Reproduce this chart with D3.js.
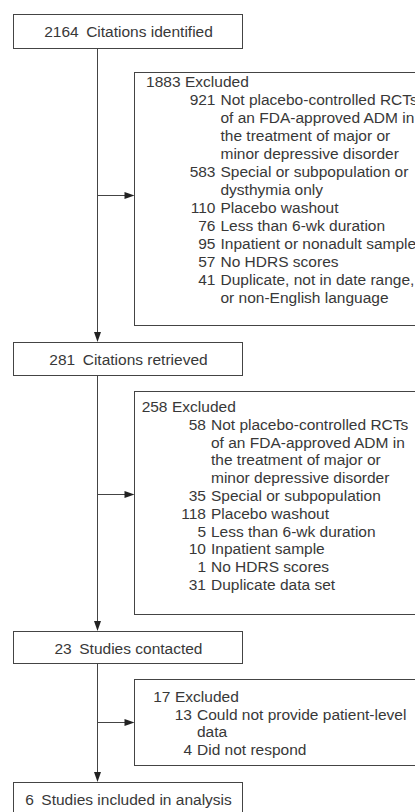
<!DOCTYPE html>
<html>
<head>
<meta charset="utf-8">
<script src="https://cdn.jsdelivr.net/npm/d3@7"></script>
<style>
  body { margin: 0; background: #fff; }
  svg { display: block; font-family: "Liberation Sans", Arial, sans-serif; }
</style>
</head>
<body>
<svg id="chart" width="415" height="812"></svg>
<script>
// main flow: counts and labels of each step
var stepCounts = [2164, 281, 23, 6];
var stepLabels = ["Citations identified", "Citations retrieved", "Studies contacted", "Studies included in analysis"];

// excluded after each step
var excludedTotals = [1883, 258, 17];

var reasons1Counts = [921, 583, 110, 76, 95, 57, 41];
var reasons1Labels = [
  ["Not placebo-controlled RCTs", "of an FDA-approved ADM in", "the treatment of major or", "minor depressive disorder"],
  ["Special or subpopulation or", "dysthymia only"],
  ["Placebo washout"],
  ["Less than 6-wk duration"],
  ["Inpatient or nonadult sample"],
  ["No HDRS scores"],
  ["Duplicate, not in date range,", "or non-English language"]
];

var reasons2Counts = [58, 35, 118, 5, 10, 1, 31];
var reasons2Labels = [
  ["Not placebo-controlled RCTs", "of an FDA-approved ADM in", "the treatment of major or", "minor depressive disorder"],
  ["Special or subpopulation"],
  ["Placebo washout"],
  ["Less than 6-wk duration"],
  ["Inpatient sample"],
  ["No HDRS scores"],
  ["Duplicate data set"]
];

var reasons3Counts = [13, 4];
var reasons3Labels = [
  ["Could not provide patient-level", "data"],
  ["Did not respond"]
];

var svg = d3.select("#chart");
var ink = "#383838";
var rule = "#444";
var fs = 15.5;

// layout of the boxes (px)
var boxX = 13, boxW = 229, trunkX = 97.5;
var stepBoxes = [
  {y: 14.5, h: 34}, {y: 342.5, h: 33}, {y: 631.5, h: 32}, {y: 782.5, h: 40}
];
var exclBoxes = [
  {y: 72.5, h: 253, arrowY: 195.5, labX: 185, subNumX: 215.5, base: 87, lh: 18},
  {y: 391.5, h: 223, arrowY: 494.5, labX: 172, subNumX: 206, base: 412, lh: 17.8},
  {y: 679.5, h: 86, arrowY: 722.5, labX: 175, subNumX: 192, base: 702, lh: 17.6}
];
var allCounts = [reasons1Counts, reasons2Counts, reasons3Counts];
var allLabels = [reasons1Labels, reasons2Labels, reasons3Labels];

var lineGen = d3.line();

function arrowHead(g, tip, dir) {
  // filled triangle, dir "down" or "right"
  var L = 10, W = 3.5, pts;
  if (dir === "down") pts = [[tip[0] - W, tip[1] - L], [tip[0] + W, tip[1] - L], tip];
  else pts = [[tip[0] - L, tip[1] - W], [tip[0] - L, tip[1] + W], tip];
  g.append("path").attr("d", lineGen(pts) + "Z").attr("fill", "#222");
}

// trunk: vertical line between step boxes, with arrows down
var trunk = svg.append("g");
for (var i = 0; i < stepBoxes.length - 1; i++) {
  var y0 = stepBoxes[i].y + stepBoxes[i].h, y1 = stepBoxes[i + 1].y - 0.5;
  trunk.append("path")
    .attr("d", lineGen([[trunkX, y0], [trunkX, y1 - 6]]))
    .attr("stroke", rule).attr("stroke-width", 1).attr("fill", "none");
  arrowHead(trunk, [trunkX, y1], "down");

  // side arrow to the exclusion box
  var eb = exclBoxes[i];
  trunk.append("path")
    .attr("d", lineGen([[trunkX, eb.arrowY], [134.5 - 6, eb.arrowY]]))
    .attr("stroke", rule).attr("stroke-width", 1).attr("fill", "none");
  arrowHead(trunk, [134.5, eb.arrowY], "right");
}

// step boxes
var steps = svg.selectAll("g.step")
  .data(stepCounts)
  .join("g").attr("class", "step");

steps.append("rect")
  .attr("x", boxX + 0.5)
  .attr("y", function(d, i) { return stepBoxes[i].y; })
  .attr("width", boxW)
  .attr("height", function(d, i) { return stepBoxes[i].h; })
  .attr("fill", "#fff").attr("stroke", rule).attr("stroke-width", 1);

var stepText = steps.append("text")
  .attr("x", boxX + boxW / 2 + 1)
  .attr("y", function(d, i) { return stepBoxes[i].y + 22.5; })
  .attr("text-anchor", "middle")
  .attr("font-size", fs)
  .attr("fill", ink);
stepText.append("tspan").text(function(d) { return d; });
stepText.append("tspan").attr("dx", 7.5).text(function(d, i) { return stepLabels[i]; });

// exclusion boxes
exclBoxes.forEach(function(b, k) {
  var g = svg.append("g");
  g.append("rect")
    .attr("x", 134.5).attr("y", b.y)
    .attr("width", 300).attr("height", b.h)
    .attr("fill", "#fff").attr("stroke", rule).attr("stroke-width", 1);

  // flatten the reasons into text rows
  var rows = [];
  allCounts[k].forEach(function(n, j) {
    allLabels[k][j].forEach(function(t, m) {
      rows.push({num: m === 0 ? n : null, text: t});
    });
  });

  var y = d3.scaleLinear()
    .domain([0, rows.length])
    .range([b.base, b.base + b.lh * rows.length]);

  g.append("text").attr("x", b.labX - 4.5).attr("y", y(0))
    .attr("text-anchor", "end")
    .attr("font-size", fs).attr("fill", ink).text(excludedTotals[k]);
  g.append("text").attr("x", b.labX).attr("y", y(0))
    .attr("font-size", fs).attr("fill", ink).text("Excluded");

  g.selectAll("text.num")
    .data(rows.filter(function(r) { return r.num !== null; }))
    .join("text").attr("class", "num")
    .attr("x", b.subNumX)
    .attr("y", function(r) { return y(rows.indexOf(r) + 1); })
    .attr("text-anchor", "end")
    .attr("font-size", fs).attr("fill", ink)
    .text(function(r) { return r.num; });

  g.selectAll("text.lab")
    .data(rows)
    .join("text").attr("class", "lab")
    .attr("x", b.subNumX + 5)
    .attr("y", function(r, j) { return y(j + 1); })
    .attr("font-size", fs).attr("fill", ink)
    .text(function(r) { return r.text; });
});
</script>
</body>
</html>
